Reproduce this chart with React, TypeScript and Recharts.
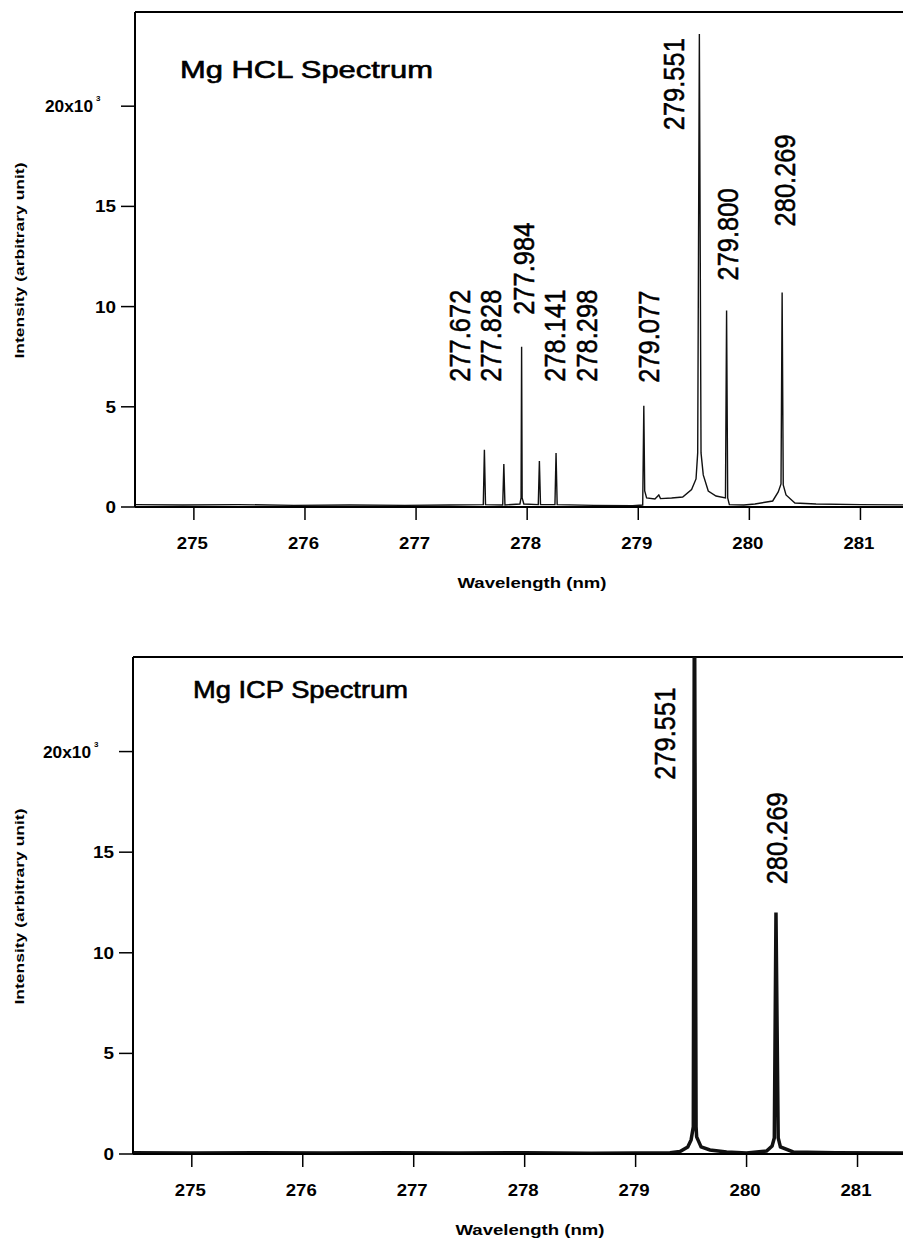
import React from 'react';
import { LineChart, Line, XAxis, YAxis, ReferenceLine, ReferenceDot, Customized } from 'recharts';

const FONT = "'Liberation Sans', Arial, Helvetica, sans-serif";

const xTicks = [275, 276, 277, 278, 279, 280, 281];
const yTicks = [0, 5000, 10000, 15000, 20000];
const xRange = [274.47, 281.5];
const yTop = 24700;

// Mg hollow cathode lamp trace (nm / counts)
const hclWavelength = [
  274.47, 274.9, 275.4, 275.9, 276.4, 276.9, 277.3, 277.605, 277.615, 277.625,
  277.78, 277.79, 277.8, 277.935, 277.945, 277.95, 277.955, 277.97, 278.1, 278.11,
  278.12, 278.25, 278.26, 278.27, 278.6, 278.95, 279.04, 279.05, 279.058, 279.075,
  279.15, 279.185, 279.2, 279.3, 279.4, 279.48, 279.52, 279.535, 279.55, 279.565,
  279.585, 279.63, 279.7, 279.785, 279.795, 279.805, 279.82, 279.95, 280.05, 280.21,
  280.26, 280.285, 280.295, 280.305, 280.33, 280.41, 280.6, 281.0, 281.5,
];
const hclIntensity = [
  120, 100, 120, 80, 100, 80, 100, 120, 2850, 120,
  100, 2150, 100, 150, 450, 8000, 450, 150, 120, 2300,
  120, 120, 2700, 120, 80, 60, 100, 5050, 800, 450,
  400, 600, 420, 450, 500, 870, 1400, 2700, 23600, 2700,
  1600, 800, 550, 450, 9800, 450, 120, 100, 150, 300,
  750, 1150, 10700, 1100, 600, 200, 150, 120, 100,
];

const hclLineNames = ['277.672', '277.828', '277.984', '278.141', '278.298', '279.077', '279.551', '279.800', '280.269'];
const hclLabelWavelength = [277.394, 277.673, 277.97, 278.249, 278.537, 279.095, 279.32, 279.8, 280.32];
const hclLabelIntensity = [6250, 6250, 9590, 6250, 6250, 6200, 18800, 11300, 14000];

// Mg ICP emission trace (nm / counts)
const icpWavelength = [
  274.47, 275.0, 275.6, 276.2, 276.8, 277.4, 278.0, 278.6, 279.0, 279.31,
  279.4, 279.47, 279.5, 279.52, 279.53, 279.545, 279.55, 279.59, 279.67, 279.82,
  280.0, 280.18, 280.23, 280.25, 280.265, 280.285, 280.305, 280.42, 280.8, 281.5,
];
const icpIntensity = [
  60, 50, 60, 50, 60, 50, 60, 40, 50, 60,
  120, 350, 700, 1350, 30000, 1350, 850, 350, 200, 100,
  50, 150, 400, 800, 12000, 800, 350, 100, 60, 50,
];

const icpLineNames = ['279.551', '280.269'];
const icpLabelWavelength = [279.264, 280.273];
const icpLabelIntensity = [18600, 13400];

const Stretch = ({ x, y, len, size, anchor = 'start', weight = 'normal', thick = 0, children }: any) => (
  <text
    x={x}
    y={y}
    fontSize={size}
    fontFamily={FONT}
    fontWeight={weight}
    fill="#000"
    stroke={thick ? '#000' : 'none'}
    strokeWidth={thick}
    textAnchor={anchor}
    textLength={len}
    lengthAdjust="spacingAndGlyphs"
  >
    {children}
  </text>
);

const XTick = (props: any) => {
  const { x, y, payload } = props;
  return (
    <Stretch x={x - 1.5} y={y + 29} len={31} size={16} anchor="middle" weight="bold">
      {payload.value}
    </Stretch>
  );
};

const YTick = (props: any) => {
  const { x, y, payload } = props;
  const v = payload.value;
  if (v === 20000) {
    return (
      <g>
        <Stretch x={x - 23} y={y + 6} len={48} size={16} anchor="end" weight="bold">20x10</Stretch>
        <text x={x - 20} y={y - 5} fontSize={8} fontFamily={FONT} fontWeight="bold" fill="#000">3</text>
      </g>
    );
  }
  const s = String(v / 1000);
  return (
    <Stretch x={x} y={y + 6} len={10.5 * s.length} size={16} anchor="end" weight="bold">
      {s}
    </Stretch>
  );
};

const peakLabel = (text: string) => (p: any) => {
  const fs = 25.5;
  return (
    <g transform={`translate(${p.cx},${p.cy}) rotate(-90) scale(1,1.15)`}>
      <text x={0} y={fs * 0.358} fontSize={fs} fontFamily={FONT} fill="#000" stroke="#000" strokeWidth={0.45}>
        {text}
      </text>
    </g>
  );
};

const Panel = ({
  top, axisWidth, rightPad, plotHeight, title, titleX, titleY, titleLen,
  wavelength, intensity, names, labelX, labelY, stroke,
}: any) => {
  const data = wavelength.map((w: number, i: number) => ({ w, v: intensity[i] }));
  return (
    <div style={{ position: 'absolute', left: 0, top }}>
      <LineChart
        width={920}
        height={12 + plotHeight + 90}
        data={data}
        margin={{ top: 12, right: rightPad, bottom: 0, left: 0 }}
      >
        <XAxis
          type="number"
          dataKey="w"
          domain={xRange}
          allowDataOverflow
          ticks={xTicks}
          height={90}
          tickSize={13}
          tickMargin={0}
          axisLine={{ stroke: '#000', strokeWidth: 2 }}
          tickLine={{ stroke: '#000', strokeWidth: 1.5 }}
          tick={(p: any) => <XTick {...p} />}
          label={{
            content: (p: any) => (
              <Stretch x={p.viewBox.x + 397} y={p.viewBox.y + 81} len={149} size={15} anchor="middle" weight="bold">
                Wavelength (nm)
              </Stretch>
            ),
          }}
        />
        <YAxis
          type="number"
          domain={[0, yTop]}
          allowDataOverflow
          ticks={yTicks}
          width={axisWidth}
          tickSize={14}
          tickMargin={5}
          axisLine={{ stroke: '#000', strokeWidth: 2 }}
          tickLine={{ stroke: '#000', strokeWidth: 1.5 }}
          tick={(p: any) => <YTick {...p} />}
          label={{
            content: (p: any) => {
              const cy = p.viewBox.y + p.viewBox.height / 2 + 1;
              return (
                <g transform={`translate(24,${cy}) rotate(-90)`}>
                  <Stretch x={0} y={0} len={196} size={13} anchor="middle" weight="bold">
                    Intensity (arbitrary unit)
                  </Stretch>
                </g>
              );
            },
          }}
        />
        <ReferenceLine y={yTop} stroke="#000" strokeWidth={2} />
        <Line
          type="linear"
          dataKey="v"
          stroke="#111"
          strokeWidth={stroke}
          dot={false}
          isAnimationActive={false}
        />
        {names.map((n: string, i: number) => (
          <ReferenceDot
            key={n}
            x={labelX[i]}
            y={labelY[i]}
            r={0}
            ifOverflow="visible"
            shape={peakLabel(n)}
          />
        ))}
        <Customized
          component={() => (
            <Stretch x={titleX} y={titleY} len={titleLen} size={23} thick={0.6}>
              {title}
            </Stretch>
          )}
        />
      </LineChart>
    </div>
  );
};

export default function App() {
  return (
    <div
      style={{
        position: 'absolute',
        left: 0,
        top: 0,
        width: 903,
        height: 1243,
        overflow: 'hidden',
        background: '#fff',
      }}
    >
      <Panel
        top={0}
        axisWidth={135}
        rightPad={4}
        plotHeight={495}
        title="Mg HCL Spectrum"
        titleX={180}
        titleY={78}
        titleLen={253}
        wavelength={hclWavelength}
        intensity={hclIntensity}
        names={hclLineNames}
        labelX={hclLabelWavelength}
        labelY={hclLabelIntensity}
        stroke={1.4}
      />
      <Panel
        top={645}
        axisWidth={133}
        rightPad={7}
        plotHeight={497}
        title="Mg ICP Spectrum"
        titleX={193}
        titleY={53}
        titleLen={215}
        wavelength={icpWavelength}
        intensity={icpIntensity}
        names={icpLineNames}
        labelX={icpLabelWavelength}
        labelY={icpLabelIntensity}
        stroke={3.5}
      />
    </div>
  );
}
